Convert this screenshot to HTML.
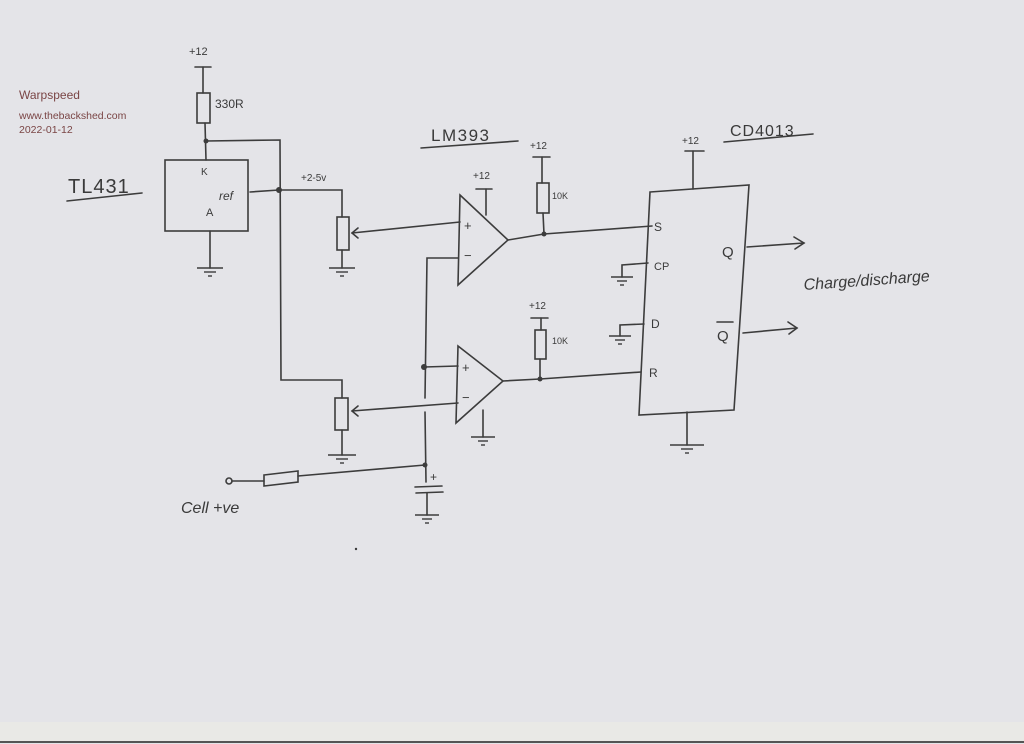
<!DOCTYPE html>
<html><head><meta charset="utf-8"><style>
html,body{margin:0;padding:0;background:#e4e4e8;}
svg{display:block}
text{font-family:"Liberation Sans",sans-serif;fill:#3a3a3a}
.h{font-family:"Liberation Sans",sans-serif;fill:#333}
</style></head><body>
<svg width="1024" height="744" viewBox="0 0 1024 744" xmlns="http://www.w3.org/2000/svg">
<rect width="1024" height="744" fill="#e4e4e8"/>
<rect x="0" y="722" width="1024" height="19" fill="#e9e9e6"/>
<line x1="0" y1="742" x2="1024" y2="742" stroke="#555" stroke-width="2"/>
<text x="19" y="99" font-size="12" fill="#7a4040" style="fill:#7a4545">Warpspeed</text>
<text x="19" y="119" font-size="10.5" style="fill:#7a4545">www.thebackshed.com</text>
<text x="19" y="133" font-size="10.5" style="fill:#7a4545">2022-01-12</text>
<g stroke="#3c3c3c" stroke-width="1.6" fill="none" stroke-linecap="round">
<!-- TL431 section -->
<line x1="195" y1="67" x2="211" y2="67"/><line x1="203" y1="67" x2="203" y2="93"/>
<rect x="197" y="93" width="13" height="30"/>
<line x1="205" y1="123" x2="206" y2="160"/>
<path d="M206 141 L280 140 L281 380 L342 380 L342 398"/>
<rect x="165" y="160" width="83" height="71"/>
<path d="M250 192 L279 190 L342 190 L342 217"/>
<rect x="337" y="217" width="12" height="33"/>
<line x1="342" y1="250" x2="342" y2="268"/>
<path d="M352 233 L460 222"/><path d="M358 228 L352 233 L358 238"/>
<line x1="210" y1="231" x2="210" y2="268"/>
<line x1="67" y1="201" x2="142" y2="193"/>
<line x1="421" y1="148" x2="518" y2="141"/>
<!-- opamp1 -->
<path d="M460 195 L508 240 L458 285 Z"/>
<line x1="476" y1="189" x2="492" y2="189"/><line x1="486" y1="189" x2="486" y2="215"/>
<path d="M458 258 L427 258 L425 398"/>
<path d="M425 412 L426 482"/>
<line x1="424" y1="367" x2="458" y2="366"/>
<!-- opamp2 -->
<path d="M458 346 L503 381 L456 423 Z"/>
<path d="M458 403 L352 411"/><path d="M358 406 L352 411 L358 416"/>
<rect x="335" y="398" width="13" height="32"/>
<line x1="342" y1="430" x2="342" y2="455"/>
<line x1="483" y1="410" x2="483" y2="437"/>
<!-- cell input -->
<circle cx="229" cy="481" r="3"/>
<line x1="232" y1="481" x2="264" y2="481"/>
<path d="M264 475 L298 471 L298 482 L264 486 Z"/>
<line x1="298" y1="476" x2="425" y2="465"/>
<line x1="415" y1="487" x2="442" y2="486"/><line x1="416" y1="493" x2="443" y2="492"/>
<line x1="427" y1="493" x2="427" y2="515"/>
<!-- right resistors -->
<line x1="533" y1="157" x2="550" y2="157"/><line x1="542" y1="157" x2="542" y2="183"/>
<rect x="537" y="183" width="12" height="30"/>
<line x1="543" y1="213" x2="544" y2="234"/>
<path d="M508 240 L544 234 L652 226"/>
<line x1="531" y1="318" x2="548" y2="318"/><line x1="541" y1="318" x2="541" y2="330"/>
<rect x="535" y="330" width="11" height="29"/>
<line x1="540" y1="359" x2="540" y2="379"/>
<path d="M503 381 L540 379 L641 372"/>
<!-- CD4013 -->
<path d="M650 192 L749 185 L734 410 L639 415 Z"/>
<line x1="685" y1="151" x2="704" y2="151"/><line x1="693" y1="151" x2="693" y2="189"/>
<line x1="724" y1="142" x2="813" y2="134"/>
<path d="M648 263 L622 265 L622 277"/>
<path d="M644 324 L620 325 L620 336"/>
<line x1="687" y1="412" x2="687" y2="445"/>
<path d="M747 247 L804 243"/><path d="M794 237 L804 243 L795 249"/>
<path d="M743 333 L797 328"/><path d="M788 322 L797 328 L789 334"/>
<line x1="717" y1="322" x2="733" y2="322"/>
</g>
<g stroke="#3c3c3c" stroke-width="1.4">
<!-- grounds -->
<g transform="translate(210,268)"><line x1="-13" x2="13"/><line x1="-6" x2="6" y1="4" y2="4"/><line x1="-2" x2="2" y1="8" y2="8"/></g>
<g transform="translate(342,268)"><line x1="-13" x2="13"/><line x1="-6" x2="6" y1="4" y2="4"/><line x1="-2" x2="2" y1="8" y2="8"/></g>
<g transform="translate(342,455)"><line x1="-14" x2="14"/><line x1="-6" x2="6" y1="4" y2="4"/><line x1="-2" x2="2" y1="8" y2="8"/></g>
<g transform="translate(483,437)"><line x1="-12" x2="12"/><line x1="-5" x2="5" y1="4" y2="4"/><line x1="-2" x2="2" y1="8" y2="8"/></g>
<g transform="translate(427,515)"><line x1="-12" x2="12"/><line x1="-5" x2="5" y1="4" y2="4"/><line x1="-2" x2="2" y1="8" y2="8"/></g>
<g transform="translate(622,277)"><line x1="-11" x2="11"/><line x1="-5" x2="5" y1="4" y2="4"/><line x1="-2" x2="2" y1="8" y2="8"/></g>
<g transform="translate(620,336)"><line x1="-11" x2="11"/><line x1="-5" x2="5" y1="4" y2="4"/><line x1="-2" x2="2" y1="8" y2="8"/></g>
<g transform="translate(687,445)"><line x1="-17" x2="17"/><line x1="-6" x2="6" y1="4" y2="4"/><line x1="-2" x2="2" y1="8" y2="8"/></g>
</g>
<g fill="#3c3c3c">
<circle cx="206" cy="141" r="2.5"/><circle cx="279" cy="190" r="3"/>
<circle cx="424" cy="367" r="3"/><circle cx="425" cy="465" r="2.5"/>
<circle cx="544" cy="234" r="2.5"/><circle cx="540" cy="379" r="2.5"/>
<circle cx="356" cy="549" r="1.2"/>
</g>
<g class="h" font-family="Liberation Sans, sans-serif">
<text x="189" y="55" font-size="11">+12</text>
<text x="215" y="108" font-size="12">330R</text>
<text x="201" y="175" font-size="10">K</text>
<text x="219" y="200" font-size="12" font-style="italic">ref</text>
<text x="206" y="192" font-size="11" dx="0" dy="24">A</text>
<text x="68" y="193" font-size="20" letter-spacing="1">TL431</text>
<text x="301" y="181" font-size="10">+2-5v</text>
<text x="431" y="141" font-size="17" letter-spacing="1.5">LM393</text>
<text x="473" y="179" font-size="10">+12</text>
<text x="464" y="230" font-size="13">+</text>
<text x="464" y="260" font-size="13">−</text>
<text x="462" y="372" font-size="13">+</text>
<text x="462" y="402" font-size="13">−</text>
<text x="181" y="513" font-size="16" font-style="italic">Cell +ve</text>
<text x="430" y="481" font-size="12">+</text>
<text x="530" y="149" font-size="10">+12</text>
<text x="552" y="199" font-size="9">10K</text>
<text x="529" y="309" font-size="10">+12</text>
<text x="552" y="344" font-size="9">10K</text>
<text x="682" y="144" font-size="10">+12</text>
<text x="730" y="136" font-size="16" letter-spacing="1">CD4013</text>
<text x="654" y="231" font-size="12">S</text>
<text x="654" y="270" font-size="11">CP</text>
<text x="651" y="328" font-size="12">D</text>
<text x="649" y="377" font-size="12">R</text>
<text x="722" y="257" font-size="15">Q</text>
<text x="717" y="341" font-size="15">Q</text>
<text x="804" y="290" font-size="16" font-style="italic" transform="rotate(-4 804 290)">Charge/discharge</text>
</g>
</svg>
</body></html>
